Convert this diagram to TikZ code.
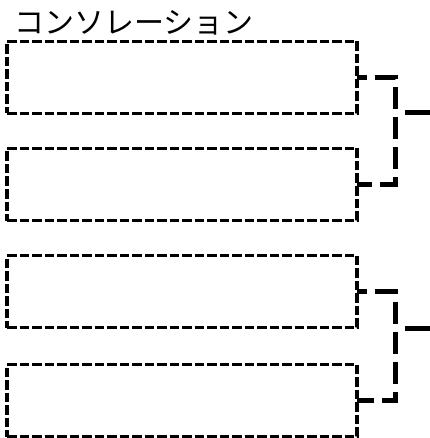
\documentclass[tikz,border=0pt]{standalone}
\usepackage{fontspec}
\newfontfamily\jpfont{Noto Sans CJK JP}
\usetikzlibrary{positioning}

\begin{document}
\begin{tikzpicture}[x=1pt, y=-1pt, box/.style={draw, dash pattern=on 9.5pt off 3pt, line width=3.5pt, minimum width=350pt, minimum height=72pt, inner sep=0pt, outer sep=0pt}, br/.style={line width=5pt, dash pattern=on 22pt off 8pt, dash phase=12pt}]
		\useasboundingbox (0,0) rectangle (429,438);

		\node[box] (b1) at (182,77.5) {};
		\node[above right=6pt and 7pt of b1.north west, inner sep=0pt, font=\jpfont\fontsize{30}{32}\selectfont] (title) {コンソレーション};
		\node[box, below=35pt of b1] (b2) {};
		\node[box, below=35pt of b2] (b3) {};
		\node[box, below=37pt of b3] (b4) {};

		\coordinate (o1) at (405,113);
		\coordinate (o1e) at (430,113);
		\coordinate (o2) at (405,328);
		\coordinate (o2e) at (430,328);

		\draw[br] (b1.east) -- ++(38,0) |- (b2.east);
		\draw[br] (b3.east) -- ++(38,0) |- (b4.east);
		\draw[line width=5pt] (o1) -- (o1e);
		\draw[line width=5pt] (o2) -- (o2e);
	\end{tikzpicture}
\end{document}
